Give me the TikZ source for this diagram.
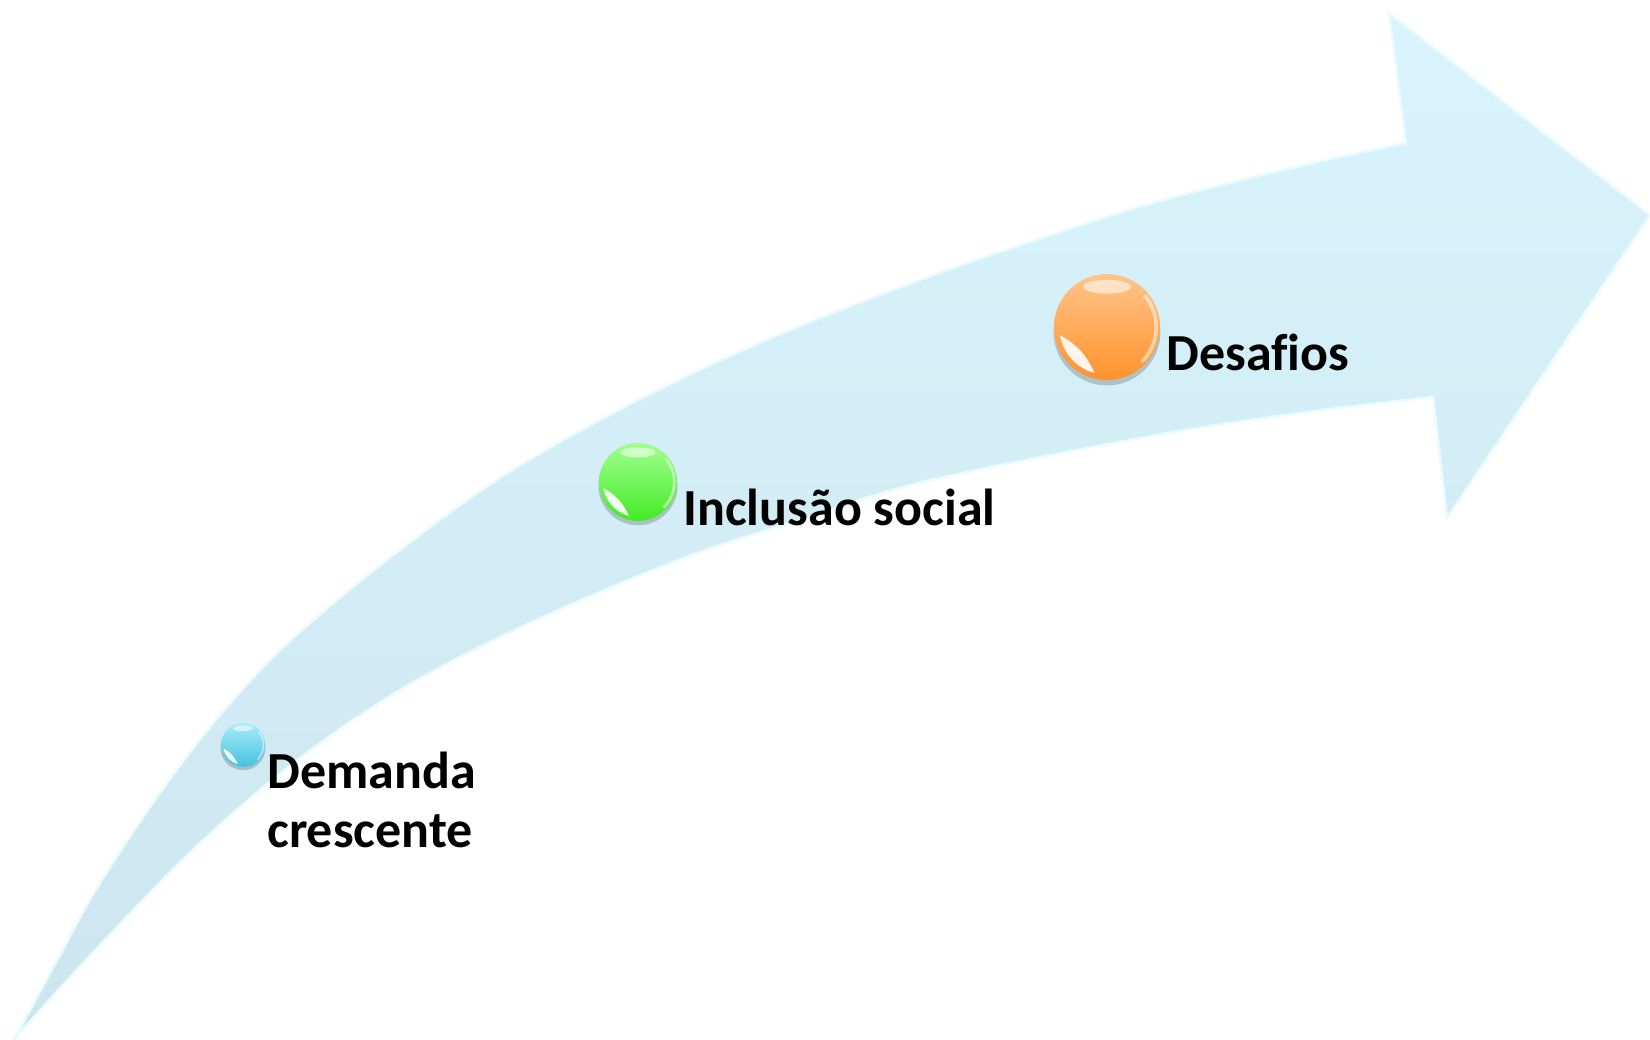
\documentclass[tikz,border=0pt]{standalone}
\usepackage{fontspec}
\setmainfont{Carlito}[Ligatures=NoCommon]
\usetikzlibrary{calc}
\definecolor{arrowhigh}{HTML}{D9F4FC}
\definecolor{arrowlow}{HTML}{CDE5EF}
\definecolor{arrowedge}{HTML}{EAFBFF}
\definecolor{blueT}{HTML}{A8ECF9}
\definecolor{blueB}{HTML}{45C1DF}
\definecolor{greenT}{HTML}{A0FF8E}
\definecolor{greenB}{HTML}{44EA28}
\definecolor{orangeT}{HTML}{FFC58C}
\definecolor{orangeB}{HTML}{FF922B}
\tikzset{
  sphere/.style n args={3}{circle, inner sep=0pt, minimum size={2*#3},
    top color=#1, bottom color=#2,
    path picture={
      \coordinate (pc) at (path picture bounding box.center);
      \fill[white, opacity=0.55] ($(pc)+(0pt,{0.76*#3})$) ellipse [x radius={0.45*#3}, y radius={0.13*#3}];
      \fill[white, opacity=0.9] ($(pc)+(190:{0.9*#3})$) arc [start angle=190, end angle=255, radius={0.9*#3}] to[bend right=18] cycle;
      \draw[white, opacity=0.5, line width={0.07*#3}]
        ($(pc)+(-45:{0.93*#3})$) arc [start angle=-45, end angle=40, radius={0.93*#3}];
    }},
  sphshadow/.style={fill=black!70, opacity=0.28},
  lbl/.style={inner sep=0pt, font=\fontsize{29.6}{33.6}\selectfont\bfseries, text=black},
}
\begin{document}
\begin{tikzpicture}[x=0.02cm, y=-0.02cm]
\useasboundingbox (0,0) rectangle (1650,1039);
% curved arrow
\shadedraw[top color=arrowhigh, bottom color=arrowlow, draw=arrowedge, line width=0.05cm, line join=miter]
  plot[smooth, tension=0.6] coordinates {(15,1038) (60,955) (100,883) (167,783) (233,700) (300,632) (400,550) (500,478) (600,420) (700,370) (800,326) (923,279) (1000,252) (1146,205) (1300,166) (1406,143)}
  -- (1389,13) -- (1650,215) -- (1447,518) -- (1433,397)
  -- plot[smooth, tension=0.6] coordinates {(1433,397) (1300,413) (1146,437) (923,482) (800,520) (700,552) (600,592) (500,637) (400,690) (300,758) (200,843) (100,945) (15,1038)}
  -- cycle;
% spheres
\coordinate (cB) at (243,745);
\coordinate (cG) at (638,482);
\coordinate (cO) at (1107,327);
\fill[sphshadow] ($(cB)+(0pt,-1.5pt)$) circle [radius=0.45cm];
\fill[sphshadow] ($(cG)+(0pt,-2.2pt)$) circle [radius=0.79cm];
\fill[sphshadow] ($(cO)+(0pt,-2.8pt)$) circle [radius=1.07cm];
\node[sphere={blueT}{blueB}{0.44cm}] (sB) at (cB) {};
\node[sphere={greenT}{greenB}{0.78cm}] (sG) at (cG) {};
\node[sphere={orangeT}{orangeB}{1.06cm}] (sO) at (cO) {};
% labels
\node[lbl, anchor=base west] (tB) at (267,788) {\begin{tabular}[t]{@{}l@{}}Demanda\\crescente\end{tabular}};
\node[lbl, anchor=base west] (tG) at (683,525) {Inclusão social};
\node[lbl, anchor=base west] (tO) at (1166,370) {Desafios};
\end{tikzpicture}
\end{document}
